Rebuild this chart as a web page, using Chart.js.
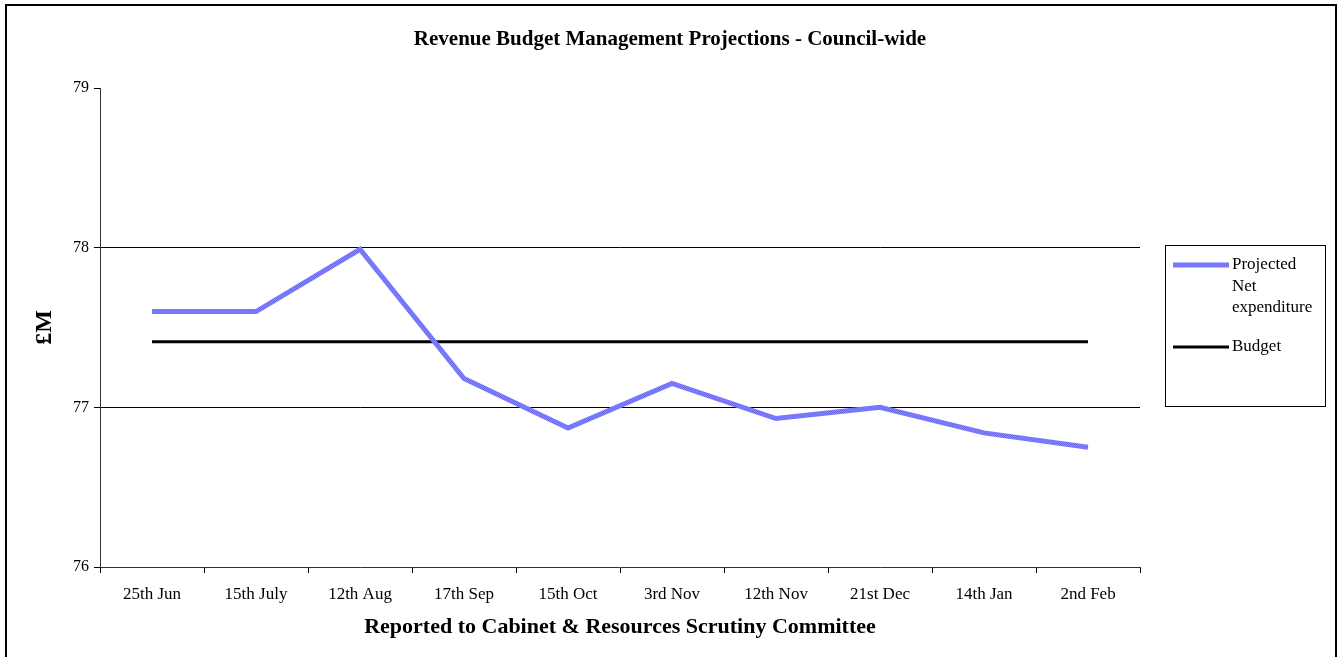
<!DOCTYPE html>
<html>
<head>
<meta charset="utf-8">
<script src="https://cdn.jsdelivr.net/npm/chart.js@4"></script>
<style>
  html, body { margin: 0; padding: 0; background: #fff; overflow: hidden; }
  #frame {
    position: absolute; left: 5px; top: 4px; width: 1328px; height: 700px;
    border: 2px solid #000;
  }
  #wrap { position: absolute; left: 0; top: 0; width: 1340px; height: 657px; }
</style>
</head>
<body>
<div id="frame"></div>
<div id="wrap"><canvas id="budgetChart"></canvas></div>
<script>
// Reporting dates (x axis)
const reportDates = ["25th Jun", "15th July", "12th Aug", "17th Sep", "15th Oct",
  "3rd Nov", "12th Nov", "21st Dec", "14th Jan", "2nd Feb"];
// Projected net expenditure, £M
const projected = [77.6, 77.6, 77.99, 77.18, 76.87, 77.15, 76.93, 77.0, 76.84, 76.75];
// Budget, £M
const budget = [77.41, 77.41, 77.41, 77.41, 77.41, 77.41, 77.41, 77.41, 77.41, 77.41];
// Y axis range
const yMin = 76;
const yMax = 79;

const serif = "'Liberation Serif', 'Times New Roman', serif";

// small dotted fill like the old Excel pattern line
function makePattern() {
  const c = document.createElement("canvas");
  c.width = 2; c.height = 2;
  const p = c.getContext("2d");
  p.fillStyle = "#8484ff";
  p.fillRect(0, 0, 2, 2);
  p.fillStyle = "#6c6cf0";
  p.fillRect(0, 0, 1, 1);
  p.fillRect(1, 1, 1, 1);
  return p.createPattern(c, "repeat");
}
const blueLine = makePattern();

// legend drawn as a boxed list to the right of the plot
const boxLegend = {
  id: "boxLegend",
  afterDraw(chart) {
    const ctx = chart.ctx;
    ctx.save();
    ctx.strokeStyle = "#000";
    ctx.lineWidth = 1;
    ctx.strokeRect(1165.5, 245.5, 160, 161);
    ctx.font = "17px " + serif;
    ctx.fillStyle = "#000";
    ctx.textBaseline = "middle";
    const entries = [
      { ds: chart.data.datasets[0], lines: ["Projected", "Net", "expenditure"], y: 265 },
      { ds: chart.data.datasets[1], lines: ["Budget"], y: 347 },
    ];
    entries.forEach((e) => {
      ctx.strokeStyle = e.ds.borderColor;
      ctx.lineWidth = e.ds.borderWidth;
      ctx.beginPath();
      ctx.moveTo(1173, e.y);
      ctx.lineTo(1229, e.y);
      ctx.stroke();
      e.lines.forEach((t, i) => ctx.fillText(t, 1232, e.y + i * 21.5));
    });
    ctx.restore();
  },
};

const ctx = document.getElementById("budgetChart").getContext("2d");
new Chart(ctx, {
  type: "line",
  data: {
    labels: reportDates,
    datasets: [
      {
        label: "Projected Net expenditure",
        data: projected,
        borderColor: blueLine,
        borderWidth: 5,
        pointRadius: 0,
        tension: 0,
        fill: false,
        yAxisID: "y",
      },
      {
        label: "Budget",
        data: budget,
        borderColor: "#000",
        borderWidth: 3,
        pointRadius: 0,
        tension: 0,
        fill: false,
        yAxisID: "y",
      },
    ],
  },
  options: {
    responsive: true,
    maintainAspectRatio: false,
    animation: false,
    layout: { padding: 0 },
    plugins: {
      legend: { display: false },
      tooltip: { enabled: false },
      title: {
        display: true,
        text: "Revenue Budget Management Projections - Council-wide",
        color: "#000",
        font: { family: serif, size: 21, weight: "bold" },
        padding: { top: 27.4, bottom: 35.4 },
      },
    },
    scales: {
      x: {
        offset: true,
        grid: { offset: true, drawOnChartArea: false, tickLength: 6, tickColor: "#000" },
        border: { color: "#333", width: 1 },
        ticks: { color: "#000", font: { family: serif, size: 17 }, padding: 11, maxRotation: 0 },
        title: {
          display: true,
          text: "Reported to Cabinet & Resources Scrutiny Committee",
          color: "#000",
          font: { family: serif, size: 22, weight: "bold" },
          padding: { top: 0, bottom: 16.8 },
        },
        afterFit: (s) => { s.height = 90; },
      },
      y: {
        min: yMin,
        max: yMax,
        ticks: { stepSize: 1, color: "#000", font: { family: serif, size: 16 }, padding: 5 },
        grid: {
          tickLength: 6,
          tickColor: "#000",
          color: (c) => (c.tick && (c.tick.value === 77 || c.tick.value === 78) ? "#000" : "rgba(0,0,0,0)"),
        },
        border: { color: "#333", width: 1 },
        title: {
          display: true,
          text: "£M",
          color: "#000",
          font: { family: serif, size: 24, weight: "bold" },
          padding: { top: 30.6, bottom: 0 },
        },
        afterFit: (s) => { s.width = 100; },
      },
      side: {
        position: "right",
        display: true,
        grid: { display: false },
        border: { display: false },
        ticks: { display: false },
        afterFit: (s) => { s.width = 200; },
      },
    },
  },
  plugins: [boxLegend],
});
</script>
</body>
</html>
